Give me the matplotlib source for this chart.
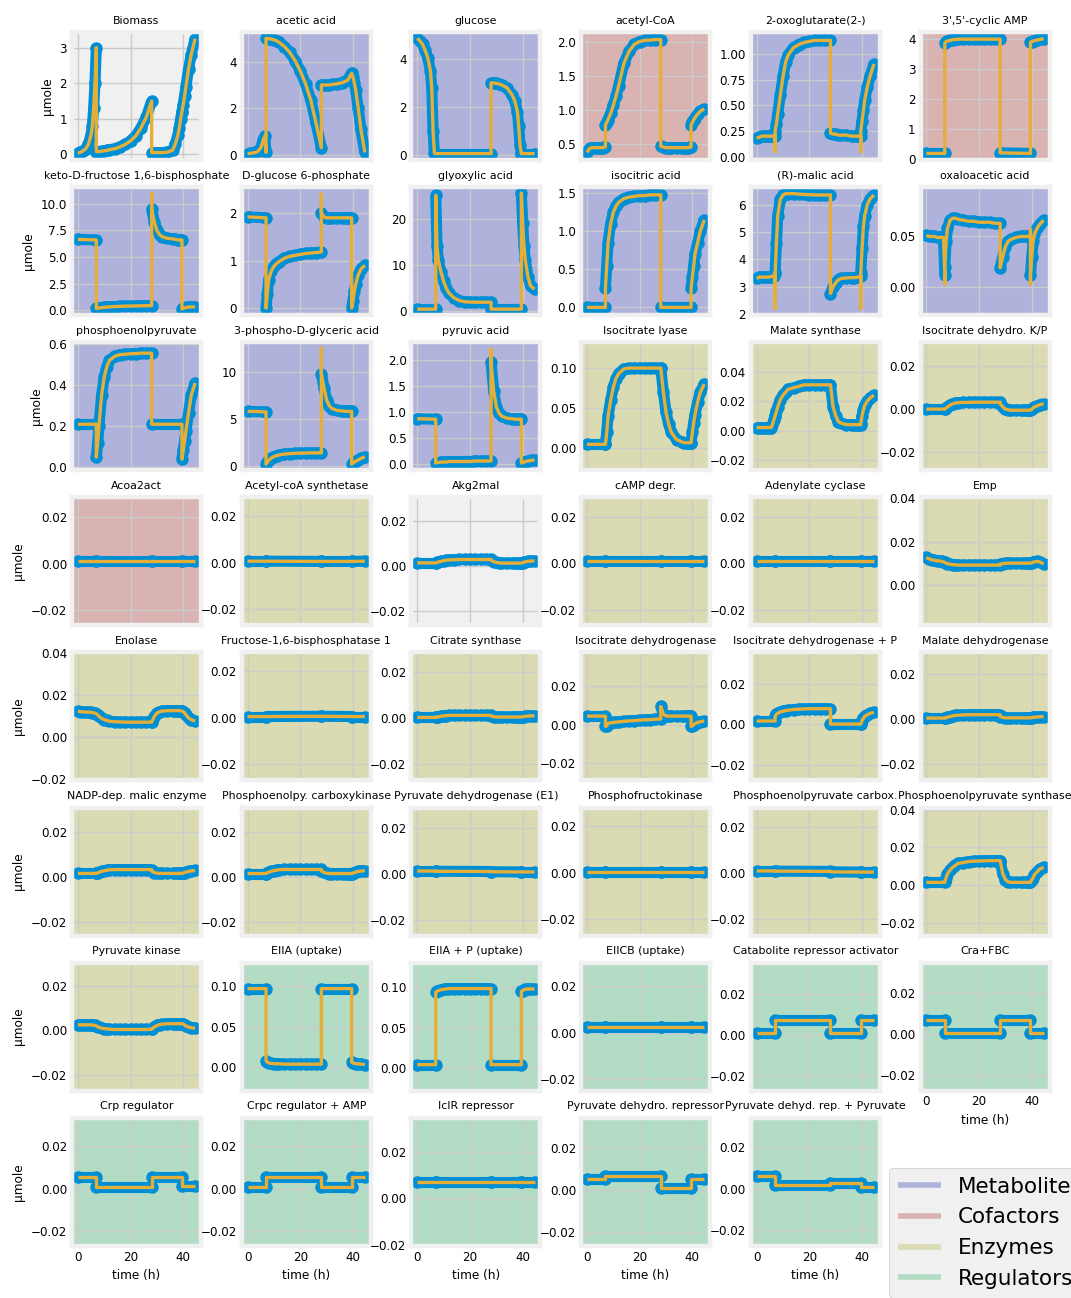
import matplotlib
matplotlib.use('Agg')
import matplotlib.pyplot as plt
from matplotlib.lines import Line2D

# sampling times (h) of the four culture phases
t_a = [0, 1, 2, 3, 4, 5, 5.5, 6, 6.5, 7]
t_b = [7, 7.5, 8, 9, 10, 11, 12, 14, 16, 18, 20, 22, 24, 26, 28]
t_c = [28, 29, 30, 31, 32, 34, 36, 37, 38, 38.5, 39, 39.5]
t_d = [39.5, 40, 40.5, 41, 42, 43, 44.5]
# a phase given with only two values is flat between its first and last time

biomass = [[0.03, 0.06, 0.1, 0.16, 0.28, 0.55, 0.8, 1.3, 2.0, 3.0],
           [0.08, 0.08, 0.08, 0.09, 0.1, 0.11, 0.13, 0.16, 0.21, 0.28, 0.38, 0.52, 0.75, 1.05, 1.5],
           [0.05, 0.05, 0.05, 0.05, 0.05, 0.06, 0.12, 0.3, 0.55, 0.75, 1.0, 1.2],
           [1.2, 1.4, 1.65, 1.9, 2.4, 2.8, 3.25]]
acetic_acid = [[0.05, 0.06, 0.08, 0.1, 0.15, 0.3, 0.45, 0.65, 0.8, 0.1],
               [5.0, 5.0, 4.99, 4.97, 4.94, 4.9, 4.83, 4.65, 4.4, 4.05, 3.6, 3.05, 2.35, 1.35, 0.3],
               [3.0, 3.0, 3.0, 3.0, 3.02, 3.05, 3.1, 3.15, 3.2, 3.3, 3.4, 3.5],
               [3.5, 3.35, 3.1, 2.8, 2.0, 1.1, 0.1]]
glucose = [[4.85, 4.75, 4.6, 4.35, 4.05, 3.5, 2.8, 1.0, 0.08, 0.06],
           [0.06, 0.06],
           [3.0, 3.0, 2.98, 2.96, 2.92, 2.8, 2.5, 2.25, 1.8, 1.2, 0.4, 0.06],
           [0.06, 0.06]]
acetyl_coa = [[0.38, 0.44, 0.45, 0.45, 0.45, 0.45, 0.45, 0.45, 0.46, 0.46],
              [0.78, 0.82, 0.86, 0.95, 1.07, 1.2, 1.35, 1.68, 1.86, 1.96, 2.0, 2.02, 2.02, 2.03, 2.03],
              [0.47, 0.46, 0.45, 0.45, 0.45, 0.45, 0.45, 0.45, 0.45, 0.45, 0.46, 0.46],
              [0.78, 0.82, 0.86, 0.89, 0.94, 0.98, 1.02]]
oxoglutarate = [[0.18, 0.19, 0.2, 0.2, 0.2, 0.2, 0.2, 0.2, 0.2, 0.2],
                [0.25, 0.32, 0.42, 0.6, 0.78, 0.92, 0.99, 1.06, 1.09, 1.11, 1.12, 1.13, 1.13, 1.13, 1.13],
                [0.23, 0.22, 0.22, 0.21, 0.21, 0.21, 0.2, 0.2, 0.2, 0.2, 0.2, 0.2],
                [0.25, 0.35, 0.45, 0.55, 0.68, 0.78, 0.9]]
cyclic_amp = [[0.2, 0.2],
              [3.85, 3.9, 3.92, 3.94, 3.96, 3.97, 3.98, 3.98, 3.98, 3.98, 3.98, 3.98, 3.98, 3.98, 3.98],
              [0.22, 0.2],
              [3.88, 3.9, 3.92, 3.93, 3.95, 3.97, 4.0]]
fructose_bp = [[6.65, 6.6],
               [0.15, 0.18, 0.2, 0.23, 0.26, 0.28, 0.3, 0.33, 0.35, 0.37, 0.38, 0.39, 0.4, 0.41, 0.42],
               [9.5, 8.3, 7.5, 7.1, 6.9, 6.75, 6.7, 6.65, 6.6, 6.6, 6.6, 6.6],
               [0.1, 0.15, 0.2, 0.25, 0.28, 0.3, 0.3]]
glucose_6p = [[1.92, 1.9],
              [0.0, 0.3, 0.6, 0.78, 0.88, 0.94, 0.98, 1.05, 1.09, 1.11, 1.13, 1.15, 1.16, 1.17, 1.18],
              [2.0, 1.92, 1.9, 1.9, 1.9, 1.9, 1.9, 1.9, 1.9, 1.9, 1.9, 1.9],
              [0.0, 0.15, 0.35, 0.5, 0.7, 0.82, 0.9]]
glyoxylic_acid = [[0.5, 0.5],
                  [25.0, 14.0, 11.0, 8.5, 6.5, 5.0, 4.0, 2.9, 2.35, 2.1, 2.02, 2.0, 2.0, 2.0, 2.0],
                  [0.5, 0.5],
                  [25.5, 19.0, 14.0, 11.0, 7.5, 5.5, 4.8]]
isocitric_acid = [[0.0, 0.0],
                  [0.25, 0.55, 0.85, 1.1, 1.25, 1.33, 1.38, 1.43, 1.45, 1.46, 1.47, 1.47, 1.48, 1.48, 1.48],
                  [0.0, 0.0],
                  [0.25, 0.4, 0.55, 0.7, 0.85, 1.0, 1.15]]
malic_acid = [[3.3, 3.35, 3.35, 3.35, 3.35, 3.36, 3.37, 3.38, 3.4, 3.5],
              [3.5, 4.6, 5.6, 6.2, 6.35, 6.4, 6.4, 6.4, 6.38, 6.37, 6.36, 6.35, 6.35, 6.35, 6.35],
              [2.75, 3.0, 3.15, 3.25, 3.3, 3.32, 3.33, 3.33, 3.34, 3.35, 3.35, 3.4],
              [3.5, 4.4, 5.2, 5.6, 6.0, 6.2, 6.35]]
oxaloacetic_acid = [[0.051, 0.05, 0.05, 0.05, 0.049, 0.049, 0.049, 0.049, 0.049, 0.012],
                    [0.02, 0.045, 0.058, 0.066, 0.068, 0.068, 0.067, 0.066, 0.065, 0.065, 0.064, 0.064, 0.064, 0.063, 0.063],
                    [0.019, 0.03, 0.04, 0.045, 0.047, 0.049, 0.05, 0.05, 0.05, 0.05, 0.05, 0.05],
                    [0.012, 0.03, 0.045, 0.052, 0.058, 0.062, 0.066]]
pep = [[0.21, 0.21],
       [0.05, 0.12, 0.2, 0.35, 0.44, 0.49, 0.52, 0.54, 0.548, 0.55, 0.552, 0.553, 0.555, 0.555, 0.555],
       [0.21, 0.21],
       [0.04, 0.085, 0.13, 0.175, 0.265, 0.35, 0.41]]
pga = [[5.8, 5.75],
       [0.2, 0.4, 0.6, 0.85, 1.0, 1.1, 1.18, 1.27, 1.32, 1.35, 1.37, 1.38, 1.4, 1.4, 1.4],
       [9.8, 8.3, 7.0, 6.4, 6.1, 5.9, 5.85, 5.8, 5.8, 5.8, 5.8, 5.8],
       [0.2, 0.3, 0.4, 0.5, 0.65, 0.8, 1.0]]
pyruvic_acid = [[0.87, 0.86],
                [0.02, 0.03, 0.03, 0.04, 0.04, 0.04, 0.05, 0.05, 0.05, 0.05, 0.05, 0.06, 0.06, 0.06, 0.06],
                [1.95, 1.4, 1.1, 0.98, 0.92, 0.88, 0.87, 0.86, 0.86, 0.86, 0.86, 0.86],
                [0.02, 0.03, 0.04, 0.05, 0.06, 0.07, 0.08]]
isocitrate_lyase = [[0.005, 0.005],
                    [0.005, 0.02, 0.04, 0.06, 0.076, 0.087, 0.093, 0.099, 0.1, 0.1, 0.1, 0.1, 0.1, 0.1, 0.1],
                    [0.1, 0.07, 0.045, 0.03, 0.02, 0.011, 0.008, 0.007, 0.007, 0.007, 0.007, 0.007],
                    [0.007, 0.02, 0.032, 0.042, 0.058, 0.07, 0.08]]
malate_synthase = [[0.002, 0.002, 0.002, 0.002, 0.002, 0.002, 0.002, 0.004, 0.007, 0.01],
                   [0.01, 0.013, 0.016, 0.021, 0.024, 0.026, 0.028, 0.029, 0.03, 0.031, 0.031, 0.031, 0.031, 0.031, 0.031],
                   [0.031, 0.016, 0.01, 0.006, 0.005, 0.004, 0.004, 0.004, 0.004, 0.004, 0.004, 0.004],
                   [0.005, 0.01, 0.014, 0.017, 0.02, 0.022, 0.024]]
icd_kinase = [[0.0, 0.0],
              [0.0, 0.0005, 0.001, 0.0018, 0.0025, 0.0028, 0.003, 0.0031, 0.0031, 0.0032, 0.0032, 0.0032, 0.0032, 0.0032, 0.0032],
              [0.0025, 0.001, 0.0, -0.0003, -0.0005, -0.0005, -0.0005, -0.0005, -0.0005, -0.0005, -0.0005, -0.0005],
              [-0.0005, 0.0, 0.0005, 0.001, 0.0015, 0.002, 0.0025]]
acoa2act = [[0.001, 0.001], [0.001, 0.001], [0.001, 0.001], [0.001, 0.001]]
acs = [[0.0006, 0.0006], [0.0006, 0.0005], [0.0005, 0.0005], [0.0005, 0.0006]]
akg2mal = [[0.0013, 0.0013],
           [0.0013, 0.0015, 0.0017, 0.002, 0.0023, 0.0025, 0.0026, 0.0027, 0.0028, 0.0028, 0.0028, 0.0028, 0.0028, 0.0028, 0.0028],
           [0.0025, 0.0018, 0.0015, 0.0013, 0.0012, 0.0012, 0.0012, 0.0012, 0.0012, 0.0012, 0.0012, 0.0012],
           [0.0012, 0.0014, 0.0016, 0.0018, 0.002, 0.0021, 0.0022]]
camp_degr = [[0.0008, 0.0008], [0.0008, 0.0008], [0.0008, 0.0008], [0.0008, 0.0008]]
adenylate_cyclase = [[0.0008, 0.0008], [0.0008, 0.0008], [0.0008, 0.0008], [0.0008, 0.0008]]
emp = [[0.0128, 0.0122, 0.0118, 0.0115, 0.0113, 0.0112, 0.0111, 0.011, 0.0108, 0.0105],
       [0.0105, 0.0102, 0.01, 0.0097, 0.0095, 0.0094, 0.0093, 0.0093, 0.0093, 0.0093, 0.0093, 0.0093, 0.0093, 0.0093, 0.0093],
       [0.0098, 0.01, 0.0101, 0.0102, 0.0102, 0.0102, 0.0102, 0.0102, 0.0102, 0.0102, 0.0102, 0.0102],
       [0.0102, 0.0104, 0.0106, 0.0108, 0.011, 0.0108, 0.0098]]
enolase = [[0.0122, 0.012, 0.0119, 0.0118, 0.0118, 0.0117, 0.0116, 0.0115, 0.0113, 0.011],
           [0.011, 0.0105, 0.0098, 0.0088, 0.0082, 0.0078, 0.0074, 0.0072, 0.0071, 0.007, 0.007, 0.007, 0.007, 0.007, 0.007],
           [0.007, 0.0097, 0.0113, 0.012, 0.0123, 0.0125, 0.0125, 0.0125, 0.0125, 0.0125, 0.0124, 0.0123],
           [0.0123, 0.012, 0.0115, 0.0105, 0.009, 0.0082, 0.0075]]
fbpase = [[0.0005, 0.0005], [0.0005, 0.0006], [0.0006, 0.0005], [0.0005, 0.0005]]
citrate_synthase = [[0.0003, 0.0003],
                    [0.0004, 0.0005, 0.0006, 0.0008, 0.001, 0.0011, 0.0012, 0.0012, 0.0012, 0.0012, 0.0012, 0.0012, 0.0012, 0.0012, 0.0012],
                    [0.0009, 0.0006, 0.0005, 0.0005, 0.0005, 0.0005, 0.0005, 0.0005, 0.0005, 0.0005, 0.0005, 0.0005],
                    [0.0005, 0.0006, 0.0007, 0.0008, 0.0009, 0.001, 0.001]]
icd = [[0.0045, 0.0045],
       [-0.0008, -0.0006, 0.0008, 0.001, 0.0012, 0.0014, 0.0015, 0.0018, 0.002, 0.0022, 0.0024, 0.0026, 0.0027, 0.0029, 0.003],
       [0.0095, 0.0055, 0.0046, 0.0045, 0.0045, 0.0045, 0.0045, 0.0045, 0.0045, 0.0045, 0.0045, 0.0045],
       [-0.0008, -0.0006, 0.0, 0.0006, 0.0012, 0.0016, 0.002]]
icd_p = [[0.0017, 0.0017],
         [0.004, 0.005, 0.0056, 0.0062, 0.0066, 0.0069, 0.0071, 0.0074, 0.0076, 0.0077, 0.0078, 0.0078, 0.0078, 0.0078, 0.0078],
         [0.0002, 0.0002],
         [0.0002, 0.002, 0.003, 0.004, 0.0048, 0.0055, 0.006]]
mdh = [[0.0005, 0.0005],
       [0.0006, 0.0007, 0.0009, 0.0012, 0.0015, 0.0017, 0.0018, 0.0019, 0.002, 0.002, 0.002, 0.002, 0.002, 0.002, 0.002],
       [0.0012, 0.0008, 0.0006, 0.0006, 0.0006, 0.0006, 0.0006, 0.0006, 0.0006, 0.0006, 0.0006, 0.0006],
       [0.0006, 0.0007, 0.0008, 0.0009, 0.001, 0.0011, 0.0012]]
malic_enzyme = [[0.0018, 0.0018],
                [0.0018, 0.002, 0.0023, 0.0027, 0.003, 0.0032, 0.0034, 0.0035, 0.0035, 0.0035, 0.0035, 0.0035, 0.0035, 0.0035, 0.0035],
                [0.0028, 0.0022, 0.0019, 0.0018, 0.0018, 0.0018, 0.0018, 0.0018, 0.0018, 0.0018, 0.0018, 0.0018],
                [0.0018, 0.002, 0.0022, 0.0024, 0.0027, 0.0029, 0.0031]]
pepck = [[0.0015, 0.0015],
         [0.0015, 0.0018, 0.0021, 0.0025, 0.0028, 0.003, 0.0032, 0.0033, 0.0033, 0.0033, 0.0033, 0.0033, 0.0033, 0.0033, 0.0033],
         [0.0026, 0.002, 0.0016, 0.0015, 0.0015, 0.0015, 0.0015, 0.0015, 0.0015, 0.0015, 0.0015, 0.0015],
         [0.0015, 0.0017, 0.0019, 0.0021, 0.0024, 0.0026, 0.0028]]
pdh_e1 = [[0.0012, 0.0012], [0.0011, 0.001], [0.0009, 0.0008], [0.0008, 0.0008]]
pfk = [[0.0005, 0.0005], [0.0005, 0.0005], [0.0005, 0.0005], [0.0005, 0.0005]]
pepc = [[0.001, 0.001], [0.0009, 0.0008], [0.0006, 0.0005], [0.0005, 0.0005]]
pps = [[0.0015, 0.0015],
       [0.002, 0.004, 0.006, 0.008, 0.0095, 0.0105, 0.0115, 0.012, 0.0125, 0.0127, 0.0128, 0.0129, 0.013, 0.013, 0.013],
       [0.013, 0.006, 0.003, 0.0018, 0.0015, 0.0015, 0.0015, 0.0015, 0.0015, 0.0015, 0.0015, 0.0015],
       [0.0015, 0.003, 0.004, 0.0055, 0.007, 0.0085, 0.0095]]
pyk = [[0.0025, 0.0025, 0.0025, 0.0025, 0.0025, 0.0025, 0.0024, 0.0023, 0.0022, 0.002],
       [0.002, 0.0017, 0.0013, 0.001, 0.0008, 0.0007, 0.0005, 0.0004, 0.0004, 0.0004, 0.0004, 0.0004, 0.0004, 0.0004, 0.0005],
       [0.0006, 0.0015, 0.0022, 0.0026, 0.0028, 0.003, 0.003, 0.003, 0.003, 0.003, 0.003, 0.003],
       [0.003, 0.0028, 0.0025, 0.002, 0.0015, 0.0012, 0.001]]
eiia = [[0.097, 0.097],
        [0.008, 0.006, 0.005, 0.0045, 0.004, 0.004, 0.004, 0.0035, 0.0035, 0.0035, 0.0035, 0.0035, 0.0035, 0.0035, 0.0035],
        [0.097, 0.097],
        [0.006, 0.005, 0.0045, 0.004, 0.004, 0.0035, 0.003]]
eiia_p = [[0.004, 0.004],
          [0.094, 0.095, 0.096, 0.097, 0.0975, 0.098, 0.0985, 0.0985, 0.0985, 0.0985, 0.0985, 0.0985, 0.0985, 0.0985, 0.0985],
          [0.004, 0.004],
          [0.095, 0.096, 0.097, 0.0975, 0.098, 0.098, 0.098]]
eiicb = [[0.0027, 0.0027], [0.0027, 0.0027], [0.0027, 0.0027], [0.0027, 0.0027]]
cra = [[0.0008, 0.0008], [0.0075, 0.0075], [0.0008, 0.0008], [0.0075, 0.0075]]
cra_fbp = [[0.0068, 0.0068], [0.0005, 0.0005], [0.0068, 0.0068], [0.0005, 0.0005]]
crp = [[0.0058, 0.0058], [0.001, 0.001], [0.0058, 0.0058], [0.0012, 0.0012]]
crpc = [[0.001, 0.001], [0.0058, 0.0058], [0.001, 0.001], [0.0058, 0.0058]]
iclr = [[0.0071, 0.0071], [0.0071, 0.0071], [0.0071, 0.0071], [0.0071, 0.0071]]
pdhr = [[0.0055, 0.0055], [0.0068, 0.0068], [0.0012, 0.0012], [0.0055, 0.0055]]
pdhr_pyr = [[0.006, 0.006], [0.0015, 0.0015], [0.0025, 0.0025], [0.0005, 0.0005]]

# short transients seen only in the fine simulation (orange), at the start of a phase
transients = {
    '2-oxoglutarate(2-)': {1: [0.05], 3: [0.05]},
    'keto-D-fructose 1,6-bisphosphate': {2: [11.0]},
    'D-glucose 6-phosphate': {2: [2.4]},
    '(R)-malic acid': {1: [2.2], 3: [2.2]},
    'oxaloacetic acid': {1: [0.003], 3: [0.057, 0.003]},
    '3-phospho-D-glyceric acid': {2: [12.5]},
    'pyruvic acid': {2: [2.2]},
}

panels = [
    ('Biomass', '', biomass), ('acetic acid', 'M', acetic_acid), ('glucose', 'M', glucose),
    ('acetyl-CoA', 'C', acetyl_coa), ('2-oxoglutarate(2-)', 'M', oxoglutarate), ("3',5'-cyclic AMP", 'C', cyclic_amp),
    ('keto-D-fructose 1,6-bisphosphate', 'M', fructose_bp), ('D-glucose 6-phosphate', 'M', glucose_6p),
    ('glyoxylic acid', 'M', glyoxylic_acid), ('isocitric acid', 'M', isocitric_acid),
    ('(R)-malic acid', 'M', malic_acid), ('oxaloacetic acid', 'M', oxaloacetic_acid),
    ('phosphoenolpyruvate', 'M', pep), ('3-phospho-D-glyceric acid', 'M', pga), ('pyruvic acid', 'M', pyruvic_acid),
    ('Isocitrate lyase', 'E', isocitrate_lyase), ('Malate synthase', 'E', malate_synthase),
    ('Isocitrate dehydro. K/P', 'E', icd_kinase),
    ('Acoa2act', 'C', acoa2act), ('Acetyl-coA synthetase', 'E', acs), ('Akg2mal', '', akg2mal),
    ('cAMP degr.', 'E', camp_degr), ('Adenylate cyclase', 'E', adenylate_cyclase), ('Emp', 'E', emp),
    ('Enolase', 'E', enolase), ('Fructose-1,6-bisphosphatase 1', 'E', fbpase), ('Citrate synthase', 'E', citrate_synthase),
    ('Isocitrate dehydrogenase', 'E', icd), ('Isocitrate dehydrogenase + P', 'E', icd_p),
    ('Malate dehydrogenase', 'E', mdh),
    ('NADP-dep. malic enzyme', 'E', malic_enzyme), ('Phosphoenolpy. carboxykinase', 'E', pepck),
    ('Pyruvate dehydrogenase (E1)', 'E', pdh_e1), ('Phosphofructokinase', 'E', pfk),
    ('Phosphoenolpyruvate carbox.', 'E', pepc), ('Phosphoenolpyruvate synthase', 'E', pps),
    ('Pyruvate kinase', 'E', pyk), ('EIIA (uptake)', 'R', eiia), ('EIIA + P (uptake)', 'R', eiia_p),
    ('EIICB (uptake)', 'R', eiicb), ('Catabolite repressor activator', 'R', cra), ('Cra+FBC', 'R', cra_fbp),
    ('Crp regulator', 'R', crp), ('Crpc regulator + AMP', 'R', crpc), ('IclR repressor', 'R', iclr),
    ('Pyruvate dehydro. repressor', 'R', pdhr), ('Pyruvate dehyd. rep. + Pyruvate', 'R', pdhr_pyr),
]

plt.style.use('fivethirtyeight')
plt.rcParams.update({
    'font.family': ['DejaVu Sans'],
    'figure.facecolor': 'white',
    'savefig.facecolor': 'white',
    'savefig.edgecolor': 'white',
    'axes.linewidth': 3.2,
    'grid.linewidth': 1.0,
})

face = {'M': '#afb2db', 'C': '#d9b2b2', 'E': '#dadbb2', 'R': '#b2dcc3', '': '#f0f0f0'}
blue = '#008fd5'
orange = '#e5ae38'
phase_times = [t_a, t_b, t_c, t_d]


def phase_t(k, vals):
    t = phase_times[k]
    if len(vals) == len(t):
        return t
    return [t[0], t[-1]]


fig = plt.figure(figsize=(10.71, 12.98), dpi=100)
W, H = 1071.0, 1298.0
ncol = 6
for i, (title, kind, data) in enumerate(panels):
    r, c = divmod(i, ncol)
    left = 72 + 169.7 * c
    top = 32 + 155.1 * r
    ax = fig.add_axes([left / W, 1 - (top + 128) / H, 129 / W, 128 / H])
    ax.set_facecolor(face[kind])

    yel_t, yel_v = [], []
    allv = []
    for k, vals in enumerate(data):
        tt = phase_t(k, vals)
        ax.plot(tt, vals, '-o', color=blue, lw=8, ms=9, mew=0, zorder=2)
        extra = transients.get(title, {}).get(k, [])
        for v in extra:
            yel_t.append(tt[0])
            yel_v.append(v)
        yel_t.extend(tt)
        yel_v.extend(vals)
        allv.extend(vals)
        allv.extend(extra)
    ax.plot(yel_t, yel_v, '-', color=orange, lw=2.4, zorder=3)

    lo, hi = min(allv) - 0.025, max(allv) + 0.025
    pad = 0.05 * (hi - lo)
    ax.set_ylim(lo - pad, hi + pad)
    ax.set_xticks([0, 20, 40])
    ax.tick_params(labelsize=8.6)
    ax.set_title(title, fontsize=7.9)
    if c == 0:
        ax.set_ylabel('µmole', fontsize=8.7)
    bottom_row = 7 if c < 5 else 6
    if r == bottom_row:
        ax.set_xlabel('time (h)', fontsize=8.7)
    else:
        ax.tick_params(labelbottom=False)

handles = [Line2D([0], [0], color=face[k], lw=4) for k in ['M', 'C', 'E', 'R']]
fig.legend(handles, ['Metabolites', 'Cofactors', 'Enzymes', 'Regulators'],
           loc='upper left', bbox_to_anchor=(889 / W, 1 - 1168 / H), fontsize=15.5,
           facecolor='#f0f0f0', edgecolor='#cbcbcb', framealpha=1.0, borderaxespad=0)

fig.savefig('out.png', dpi=100)
